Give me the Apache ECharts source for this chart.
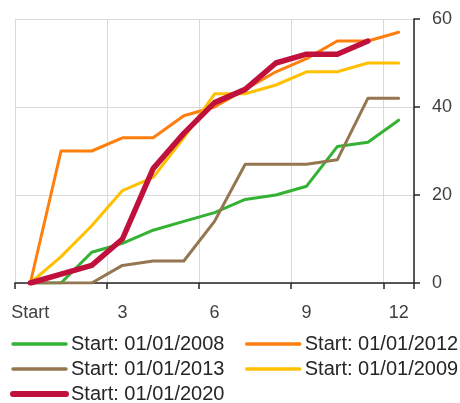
<!DOCTYPE html>
<html>
<head>
<meta charset="utf-8">
<script src="https://cdn.jsdelivr.net/npm/echarts@6/dist/echarts.min.js"></script>
<style>
html,body{margin:0;padding:0;background:#fff;}
#chart{width:460px;height:403px;}
</style>
</head>
<body>
<div id="chart"></div>
<script>
const categories = ['Start','1','2','3','4','5','6','7','8','9','10','11','12'];
const yTicks = [0, 20, 40, 60];

const seriesNames = ['Start: 01/01/2008','Start: 01/01/2012','Start: 01/01/2013','Start: 01/01/2009','Start: 01/01/2020'];
const s2008 = [0, 0, 7, 9, 12, 14, 16, 19, 20, 22, 31, 32, 37];
const s2012 = [0, 30, 30, 33, 33, 38, 40, 44, 48, 51, 55, 55, 57];
const s2013 = [0, 0, 0, 4, 5, 5, 14, 27, 27, 27, 28, 42, 42];
const s2009 = [0, 6, 13, 21, 24, 33, 43, 43, 45, 48, 48, 50, 50];
const s2020 = [0, 2, 4, 10, 26, 34, 41, 44, 50, 52, 52, 55];

const colors = ['#33b233', '#ff7f0e', '#947650', '#ffc000', '#c0103c'];
const widths = [3, 3, 3, 3, 5.5];
const values = [s2008, s2012, s2013, s2009, s2020];

const chart = echarts.init(document.getElementById('chart'), null, {renderer:'canvas'});
const font = 'Liberation Sans, Arial, sans-serif';

const series = seriesNames.map((n, i) => ({
  name: n,
  type: 'line',
  data: values[i],
  symbol: 'none',
  smooth: false,
  z: i === 4 ? 10 : 2 + i,
  lineStyle: { color: colors[i], width: widths[i], cap: 'round', join: 'round' },
  itemStyle: { color: colors[i] }
}));

function legendItem(i) {
  return {
    name: seriesNames[i],
    itemStyle: { opacity: 0 },
    lineStyle: { color: colors[i], width: widths[i] + 0.5, cap: 'round' }
  };
}

const legendCommon = {
  orient: 'vertical',
  itemWidth: 53,
  itemHeight: 12,
  itemGap: 5,
  padding: 0,
  height: 80,
  textStyle: { fontFamily: font, fontSize: 20, lineHeight: 16, color: '#262626' }
};

chart.setOption({
  animation: false,
  backgroundColor: '#ffffff',
  color: colors,
  grid: { left: 15, right: 46, top: 19, bottom: 120, containLabel: false },
  xAxis: {
    type: 'category',
    data: categories,
    boundaryGap: true,
    axisLine: { show: true, lineStyle: { color: '#262626', width: 1.5 } },
    axisTick: { show: true, interval: 2, length: 6, lineStyle: { color: '#262626', width: 1.5 } },
    axisLabel: { interval: 2, margin: 21, fontFamily: font, fontSize: 18, color: '#404040' },
    splitLine: { show: true, interval: 2, lineStyle: { color: '#d9d9d9', width: 1 } }
  },
  yAxis: {
    type: 'value',
    position: 'right',
    min: yTicks[0],
    max: yTicks[yTicks.length - 1],
    interval: yTicks[1] - yTicks[0],
    axisLine: { show: true, lineStyle: { color: '#262626', width: 1.5 } },
    axisTick: { show: true, inside: false, length: 6, lineStyle: { color: '#262626', width: 1.5 } },
    axisLabel: { margin: 18, fontFamily: font, fontSize: 18, color: '#404040' },
    splitLine: { show: true, lineStyle: { color: '#d9d9d9', width: 1 } }
  },
  legend: [
    Object.assign({}, legendCommon, { left: 10, top: 334, data: [legendItem(0), legendItem(2), legendItem(4)] }),
    Object.assign({}, legendCommon, { left: 245, top: 334, data: [legendItem(1), legendItem(3)] })
  ],
  series: series
});
</script>
</body>
</html>
